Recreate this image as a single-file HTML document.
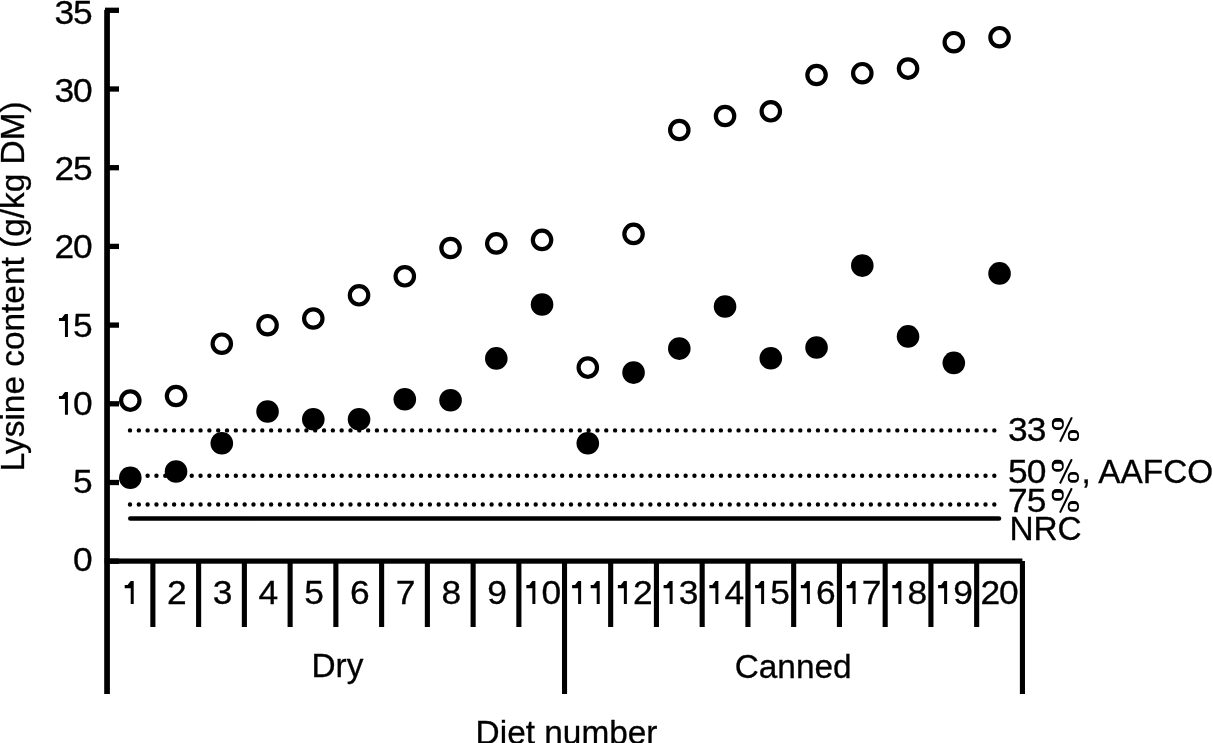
<!DOCTYPE html>
<html><head><meta charset="utf-8"><style>
html,body{margin:0;padding:0;background:#fff;overflow:hidden}
svg{display:block;will-change:transform}
text{font-family:"Liberation Sans",sans-serif;font-size:33.4px;fill:#000;stroke:#000;stroke-width:0.3px}
</style></head><body>
<svg width="1213" height="743" viewBox="0 0 1213 743" fill="#000">
<line x1="130" y1="430.4" x2="994.4" y2="430.4" stroke="#000" stroke-width="4.4" stroke-linecap="round" stroke-dasharray="0 8.8196"/>
<line x1="130" y1="475.8" x2="994.4" y2="475.8" stroke="#000" stroke-width="4.4" stroke-linecap="round" stroke-dasharray="0 8.8196"/>
<line x1="130" y1="504.5" x2="994.4" y2="504.5" stroke="#000" stroke-width="4.4" stroke-linecap="round" stroke-dasharray="0 8.8196"/>
<line x1="130.3" y1="518.5" x2="999" y2="518.5" stroke="#000" stroke-width="4.6" stroke-linecap="round"/>
<rect x="104.2" y="9.9" width="5.7" height="684.1"/>
<rect x="105" y="558.55" width="14" height="5.3"/>
<rect x="105" y="479.85" width="14" height="5.3"/>
<rect x="105" y="401.15" width="14" height="5.3"/>
<rect x="105" y="322.45" width="14" height="5.3"/>
<rect x="105" y="243.75" width="14" height="5.3"/>
<rect x="105" y="165.05" width="14" height="5.3"/>
<rect x="105" y="86.35" width="14" height="5.3"/>
<rect x="105" y="7.65" width="14" height="5.3"/>
<rect x="104.6" y="558.5" width="917.8" height="5.2"/>
<rect x="150.32" y="561" width="5.1" height="66"/>
<rect x="196.07" y="561" width="5.1" height="66"/>
<rect x="241.82" y="561" width="5.1" height="66"/>
<rect x="287.57" y="561" width="5.1" height="66"/>
<rect x="333.32" y="561" width="5.1" height="66"/>
<rect x="379.07" y="561" width="5.1" height="66"/>
<rect x="424.82" y="561" width="5.1" height="66"/>
<rect x="470.57" y="561" width="5.1" height="66"/>
<rect x="516.33" y="561" width="5.1" height="66"/>
<rect x="561.98" y="561" width="5.1" height="133"/>
<rect x="608.12" y="561" width="5.1" height="66"/>
<rect x="653.88" y="561" width="5.1" height="66"/>
<rect x="699.62" y="561" width="5.1" height="66"/>
<rect x="745.38" y="561" width="5.1" height="66"/>
<rect x="791.12" y="561" width="5.1" height="66"/>
<rect x="836.88" y="561" width="5.1" height="66"/>
<rect x="882.62" y="561" width="5.1" height="66"/>
<rect x="928.38" y="561" width="5.1" height="66"/>
<rect x="974.12" y="561" width="5.1" height="66"/>
<rect x="1019.88" y="561" width="5.1" height="133"/>
<circle cx="130.30" cy="400.6" r="9.2" fill="#fff" stroke="#000" stroke-width="4.2"/>
<circle cx="176.05" cy="396.0" r="9.2" fill="#fff" stroke="#000" stroke-width="4.2"/>
<circle cx="221.80" cy="343.7" r="9.2" fill="#fff" stroke="#000" stroke-width="4.2"/>
<circle cx="267.55" cy="325.2" r="9.2" fill="#fff" stroke="#000" stroke-width="4.2"/>
<circle cx="313.30" cy="318.5" r="9.2" fill="#fff" stroke="#000" stroke-width="4.2"/>
<circle cx="359.05" cy="295.3" r="9.2" fill="#fff" stroke="#000" stroke-width="4.2"/>
<circle cx="404.80" cy="276.3" r="9.2" fill="#fff" stroke="#000" stroke-width="4.2"/>
<circle cx="450.55" cy="248.0" r="9.2" fill="#fff" stroke="#000" stroke-width="4.2"/>
<circle cx="496.30" cy="243.4" r="9.2" fill="#fff" stroke="#000" stroke-width="4.2"/>
<circle cx="542.05" cy="239.9" r="9.2" fill="#fff" stroke="#000" stroke-width="4.2"/>
<circle cx="587.80" cy="367.6" r="9.2" fill="#fff" stroke="#000" stroke-width="4.2"/>
<circle cx="633.55" cy="233.9" r="9.2" fill="#fff" stroke="#000" stroke-width="4.2"/>
<circle cx="679.30" cy="130.0" r="9.2" fill="#fff" stroke="#000" stroke-width="4.2"/>
<circle cx="725.05" cy="116.0" r="9.2" fill="#fff" stroke="#000" stroke-width="4.2"/>
<circle cx="770.80" cy="111.3" r="9.2" fill="#fff" stroke="#000" stroke-width="4.2"/>
<circle cx="816.55" cy="75.0" r="9.2" fill="#fff" stroke="#000" stroke-width="4.2"/>
<circle cx="862.30" cy="73.2" r="9.2" fill="#fff" stroke="#000" stroke-width="4.2"/>
<circle cx="908.05" cy="68.6" r="9.2" fill="#fff" stroke="#000" stroke-width="4.2"/>
<circle cx="953.80" cy="42.2" r="9.2" fill="#fff" stroke="#000" stroke-width="4.2"/>
<circle cx="999.55" cy="37.2" r="9.2" fill="#fff" stroke="#000" stroke-width="4.2"/>
<circle cx="130.30" cy="477.8" r="11.3"/>
<circle cx="176.05" cy="471.5" r="11.3"/>
<circle cx="221.80" cy="443.3" r="11.3"/>
<circle cx="267.55" cy="411.5" r="11.3"/>
<circle cx="313.30" cy="419.2" r="11.3"/>
<circle cx="359.05" cy="419.2" r="11.3"/>
<circle cx="404.80" cy="399.3" r="11.3"/>
<circle cx="450.55" cy="400.3" r="11.3"/>
<circle cx="496.30" cy="358.4" r="11.3"/>
<circle cx="542.05" cy="304.5" r="11.3"/>
<circle cx="587.80" cy="443.3" r="11.3"/>
<circle cx="633.55" cy="372.6" r="11.3"/>
<circle cx="679.30" cy="348.6" r="11.3"/>
<circle cx="725.05" cy="306.5" r="11.3"/>
<circle cx="770.80" cy="358.3" r="11.3"/>
<circle cx="816.55" cy="347.5" r="11.3"/>
<circle cx="862.30" cy="265.6" r="11.3"/>
<circle cx="908.05" cy="336.4" r="11.3"/>
<circle cx="953.80" cy="362.9" r="11.3"/>
<circle cx="999.55" cy="273.4" r="11.3"/>
<text transform="translate(64.33,23.7) scale(1.06,1)" text-anchor="middle">3</text><text transform="translate(82.91,23.7) scale(1.06,1)" text-anchor="middle">5</text>
<text transform="translate(64.33,102) scale(1.06,1)" text-anchor="middle">3</text><text transform="translate(82.91,102) scale(1.06,1)" text-anchor="middle">0</text>
<text transform="translate(64.33,180.2) scale(1.06,1)" text-anchor="middle">2</text><text transform="translate(82.91,180.2) scale(1.06,1)" text-anchor="middle">5</text>
<text transform="translate(64.33,257.7) scale(1.06,1)" text-anchor="middle">2</text><text transform="translate(82.91,257.7) scale(1.06,1)" text-anchor="middle">0</text>
<polygon points="64.95,336.90 67.95,336.90 67.95,314.00 64.95,314.00 61.85,318.00 58.95,318.00 58.95,321.10 64.95,321.10"/><text transform="translate(82.91,336.9) scale(1.06,1)" text-anchor="middle">5</text>
<polygon points="64.95,414.80 67.95,414.80 67.95,391.90 64.95,391.90 61.85,395.90 58.95,395.90 58.95,399.00 64.95,399.00"/><text transform="translate(82.91,414.8) scale(1.06,1)" text-anchor="middle">0</text>
<text transform="translate(82.91,493.1) scale(1.06,1)" text-anchor="middle">5</text>
<text transform="translate(82.91,571) scale(1.06,1)" text-anchor="middle">0</text>
<polygon points="130.71,604.00 133.71,604.00 133.71,581.10 130.71,581.10 127.61,585.10 124.71,585.10 124.71,588.20 130.71,588.20"/>
<text transform="translate(176.85,604) scale(1.06,1)" text-anchor="middle">2</text>
<text transform="translate(222.60,604) scale(1.06,1)" text-anchor="middle">3</text>
<text transform="translate(268.35,604) scale(1.06,1)" text-anchor="middle">4</text>
<text transform="translate(314.10,604) scale(1.06,1)" text-anchor="middle">5</text>
<text transform="translate(359.85,604) scale(1.06,1)" text-anchor="middle">6</text>
<text transform="translate(405.60,604) scale(1.06,1)" text-anchor="middle">7</text>
<text transform="translate(451.35,604) scale(1.06,1)" text-anchor="middle">8</text>
<text transform="translate(497.10,604) scale(1.06,1)" text-anchor="middle">9</text>
<polygon points="532.37,604.00 535.37,604.00 535.37,581.10 532.37,581.10 529.27,585.10 526.37,585.10 526.37,588.20 532.37,588.20"/><text transform="translate(551.34,604) scale(1.06,1)" text-anchor="middle">0</text>
<polygon points="578.12,604.00 581.12,604.00 581.12,581.10 578.12,581.10 575.02,585.10 572.12,585.10 572.12,588.20 578.12,588.20"/><polygon points="596.70,604.00 599.70,604.00 599.70,581.10 596.70,581.10 593.60,585.10 590.70,585.10 590.70,588.20 596.70,588.20"/>
<polygon points="623.87,604.00 626.87,604.00 626.87,581.10 623.87,581.10 620.77,585.10 617.87,585.10 617.87,588.20 623.87,588.20"/><text transform="translate(642.84,604) scale(1.06,1)" text-anchor="middle">2</text>
<polygon points="669.62,604.00 672.62,604.00 672.62,581.10 669.62,581.10 666.52,585.10 663.62,585.10 663.62,588.20 669.62,588.20"/><text transform="translate(688.59,604) scale(1.06,1)" text-anchor="middle">3</text>
<polygon points="715.37,604.00 718.37,604.00 718.37,581.10 715.37,581.10 712.27,585.10 709.37,585.10 709.37,588.20 715.37,588.20"/><text transform="translate(734.34,604) scale(1.06,1)" text-anchor="middle">4</text>
<polygon points="761.12,604.00 764.12,604.00 764.12,581.10 761.12,581.10 758.02,585.10 755.12,585.10 755.12,588.20 761.12,588.20"/><text transform="translate(780.09,604) scale(1.06,1)" text-anchor="middle">5</text>
<polygon points="806.87,604.00 809.87,604.00 809.87,581.10 806.87,581.10 803.77,585.10 800.87,585.10 800.87,588.20 806.87,588.20"/><text transform="translate(825.84,604) scale(1.06,1)" text-anchor="middle">6</text>
<polygon points="852.62,604.00 855.62,604.00 855.62,581.10 852.62,581.10 849.52,585.10 846.62,585.10 846.62,588.20 852.62,588.20"/><text transform="translate(871.59,604) scale(1.06,1)" text-anchor="middle">7</text>
<polygon points="898.37,604.00 901.37,604.00 901.37,581.10 898.37,581.10 895.27,585.10 892.37,585.10 892.37,588.20 898.37,588.20"/><text transform="translate(917.34,604) scale(1.06,1)" text-anchor="middle">8</text>
<polygon points="944.12,604.00 947.12,604.00 947.12,581.10 944.12,581.10 941.02,585.10 938.12,585.10 938.12,588.20 944.12,588.20"/><text transform="translate(963.09,604) scale(1.06,1)" text-anchor="middle">9</text>
<text transform="translate(990.26,604) scale(1.06,1)" text-anchor="middle">2</text><text transform="translate(1008.84,604) scale(1.06,1)" text-anchor="middle">0</text>
<text x="311.5" y="677.4">Dry</text>
<text x="734.7" y="677.7">Canned</text>
<text x="475.6" y="744.3">Diet number</text>
<text transform="translate(24.4,471.3) rotate(-90)">Lysine content (g/kg DM)</text>
<text transform="translate(1017.89,440.9) scale(1.06,1)" text-anchor="middle">3</text><text transform="translate(1036.47,440.9) scale(1.06,1)" text-anchor="middle">3</text><path fill-rule="evenodd" d="M1056.50,418.00 h2.70 a4.6,4.6 0 0 1 4.6,4.6 v2.70 a4.6,4.6 0 0 1 -4.6,4.6 h-2.70 a4.6,4.6 0 0 1 -4.6,-4.6 v-2.70 a4.6,4.6 0 0 1 4.6,-4.6 Z M1056.10,421.85 h3.70 a2.3,2.3 0 0 1 2.3,2.3 v0.70 a2.3,2.3 0 0 1 -2.3,2.3 h-3.70 a2.3,2.3 0 0 1 -2.3,-2.3 v-0.70 a2.3,2.3 0 0 1 2.3,-2.3 Z M1072.20,430.10 h2.50 a4.3,4.3 0 0 1 4.3,4.3 v2.20 a4.3,4.3 0 0 1 -4.3,4.3 h-2.50 a4.3,4.3 0 0 1 -4.3,-4.3 v-2.20 a4.3,4.3 0 0 1 4.3,-4.3 Z M1071.95,433.05 h3.00 a2.3,2.3 0 0 1 2.3,2.3 v0.65 a2.3,2.3 0 0 1 -2.3,2.3 h-3.00 a2.3,2.3 0 0 1 -2.3,-2.3 v-0.65 a2.3,2.3 0 0 1 2.3,-2.3 Z "/><line x1="1060.10" y1="441.70" x2="1071.90" y2="417.40" stroke="#000" stroke-width="2"/>
<text transform="translate(1017.89,482.7) scale(1.06,1)" text-anchor="middle">5</text><text transform="translate(1036.47,482.7) scale(1.06,1)" text-anchor="middle">0</text><path fill-rule="evenodd" d="M1056.40,459.80 h2.70 a4.6,4.6 0 0 1 4.6,4.6 v2.70 a4.6,4.6 0 0 1 -4.6,4.6 h-2.70 a4.6,4.6 0 0 1 -4.6,-4.6 v-2.70 a4.6,4.6 0 0 1 4.6,-4.6 Z M1056.00,463.65 h3.70 a2.3,2.3 0 0 1 2.3,2.3 v0.70 a2.3,2.3 0 0 1 -2.3,2.3 h-3.70 a2.3,2.3 0 0 1 -2.3,-2.3 v-0.70 a2.3,2.3 0 0 1 2.3,-2.3 Z M1072.10,471.90 h2.50 a4.3,4.3 0 0 1 4.3,4.3 v2.20 a4.3,4.3 0 0 1 -4.3,4.3 h-2.50 a4.3,4.3 0 0 1 -4.3,-4.3 v-2.20 a4.3,4.3 0 0 1 4.3,-4.3 Z M1071.85,474.85 h3.00 a2.3,2.3 0 0 1 2.3,2.3 v0.65 a2.3,2.3 0 0 1 -2.3,2.3 h-3.00 a2.3,2.3 0 0 1 -2.3,-2.3 v-0.65 a2.3,2.3 0 0 1 2.3,-2.3 Z "/><line x1="1060.00" y1="483.50" x2="1071.80" y2="459.20" stroke="#000" stroke-width="2"/><text x="1081.6" y="482.7">, AAFCO</text>
<text transform="translate(1017.89,511.8) scale(1.06,1)" text-anchor="middle">7</text><text transform="translate(1036.47,511.8) scale(1.06,1)" text-anchor="middle">5</text><path fill-rule="evenodd" d="M1056.40,488.90 h2.70 a4.6,4.6 0 0 1 4.6,4.6 v2.70 a4.6,4.6 0 0 1 -4.6,4.6 h-2.70 a4.6,4.6 0 0 1 -4.6,-4.6 v-2.70 a4.6,4.6 0 0 1 4.6,-4.6 Z M1056.00,492.75 h3.70 a2.3,2.3 0 0 1 2.3,2.3 v0.70 a2.3,2.3 0 0 1 -2.3,2.3 h-3.70 a2.3,2.3 0 0 1 -2.3,-2.3 v-0.70 a2.3,2.3 0 0 1 2.3,-2.3 Z M1072.10,501.00 h2.50 a4.3,4.3 0 0 1 4.3,4.3 v2.20 a4.3,4.3 0 0 1 -4.3,4.3 h-2.50 a4.3,4.3 0 0 1 -4.3,-4.3 v-2.20 a4.3,4.3 0 0 1 4.3,-4.3 Z M1071.85,503.95 h3.00 a2.3,2.3 0 0 1 2.3,2.3 v0.65 a2.3,2.3 0 0 1 -2.3,2.3 h-3.00 a2.3,2.3 0 0 1 -2.3,-2.3 v-0.65 a2.3,2.3 0 0 1 2.3,-2.3 Z "/><line x1="1060.00" y1="512.60" x2="1071.80" y2="488.30" stroke="#000" stroke-width="2"/>
<text x="1009.4" y="539.8">NRC</text>
</svg>
</body></html>
